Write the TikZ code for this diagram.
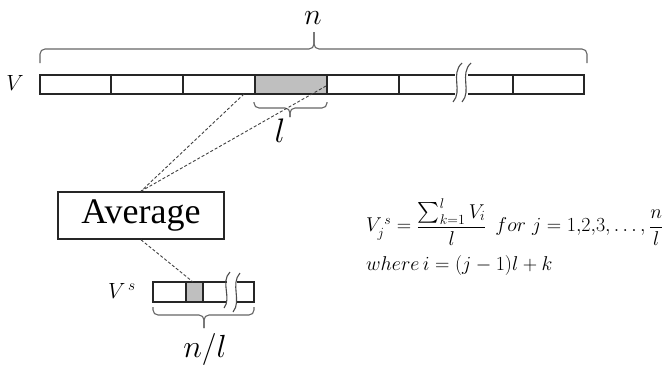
\RequirePackage{fix-cm}
\documentclass[tikz,border=0pt]{standalone}
\usepackage{amsmath}
\usepackage{fontspec}
\newfontfamily\avgfont{Liberation Serif}
\begin{document}
\begin{tikzpicture}[x=1pt,y=-1pt,
  barline/.style={draw=black!85, line width=1.6pt},
  cellline/.style={draw=black!85, line width=1.4pt},
  bracel/.style={draw=black!60, line width=1.1pt, rounded corners=5pt},
  dashline/.style={draw=black!75, line width=0.9pt, dash pattern=on 3pt off 2pt},
  squig/.style={draw=black!70, line width=1.1pt},
  lbl/.style={inner sep=0pt},
  boxnode/.style={draw=black!85, line width=1.6pt, minimum width=166pt, minimum height=47pt, inner sep=0pt}]
\useasboundingbox (0,0) rectangle (662,367);
% ---- top bar V ----
\fill[black!25] (255,76) rectangle (327,93);
\draw[barline] (455,75) -- (40,75) -- (40,94) -- (455,94);
\draw[barline] (468,75) -- (584,75) -- (584,94) -- (468,94);
\foreach \xx in {111,183,255,327,399,513} \draw[cellline] (\xx,75) -- (\xx,94);
\draw[squig] (462,63) .. controls (450,74) and (463,91) .. (453,102);
\draw[squig] (471,63) .. controls (459,74) and (472,91) .. (462,102);
\node[lbl] (V) at (15,83) {\fontsize{22}{24}\selectfont$V$};
% top brace
\draw[bracel] (40,63) |- (314,49) -- (314,32);
\draw[bracel] (587,63) |- (314,49) -- (314,32);
\node[lbl] (n) at (313,18.5) {\fontsize{30}{34}\selectfont$n$};
% small brace l
\draw[bracel] (254,102) |- (290,108) -- (290,117);
\draw[bracel] (327,102) |- (290,108) -- (290,117);
\node[lbl] (l) at (280,131) {\fontsize{34}{38}\selectfont$l$};
% ---- Average ----
\node[boxnode] (avg) at (141,215.5) {\avgfont\fontsize{36}{40}\selectfont Average};
\coordinate (p1) at (244,94);
\coordinate (p2) at (326,86);
\draw[dashline] (p1) -- (avg.north);
\draw[dashline] (p2) -- (avg.north);
% ---- small bar Vs ----
\fill[black!25] (186.5,283) rectangle (203,301);
\draw[barline] (227,282) -- (153,282) -- (153,302) -- (227,302);
\draw[barline] (237,282) -- (254,282) -- (254,302) -- (237,302);
\foreach \xx in {186,203} \draw[cellline] (\xx,282) -- (\xx,302);
\draw[squig] (230,272) .. controls (220,282) and (232,298) .. (224,308);
\draw[squig] (240,273) .. controls (230,284) and (242,301) .. (233,312);
\coordinate (g) at (193,282);
\draw[dashline] (avg.south) -- (g);
\node[lbl] (Vs) at (122,291) {\fontsize{22}{24}\selectfont$V^{\,s}$};
% Vs brace
\draw[bracel] (153,307) |- (204,315) -- (204,328);
\draw[bracel] (254,307) |- (204,315) -- (204,328);
\node[lbl] (nl) at (205,349) {\fontsize{32}{36}\selectfont$n/l$};
% ---- formula ----
\node[lbl, anchor=west] (f1) at (366,222) {\fontsize{20}{24}\selectfont$V_j^{\,s}=\dfrac{\textstyle\sum_{k=1}^{l}V_i}{l}\;\, for\ j=1{,}2{,}3,\ldots,\dfrac{n}{l}$};
\node[lbl, anchor=west] (f2) at (366,265) {\fontsize{20}{24}\selectfont$where\,i=(j-1)l+k$};
\end{tikzpicture}
\end{document}
